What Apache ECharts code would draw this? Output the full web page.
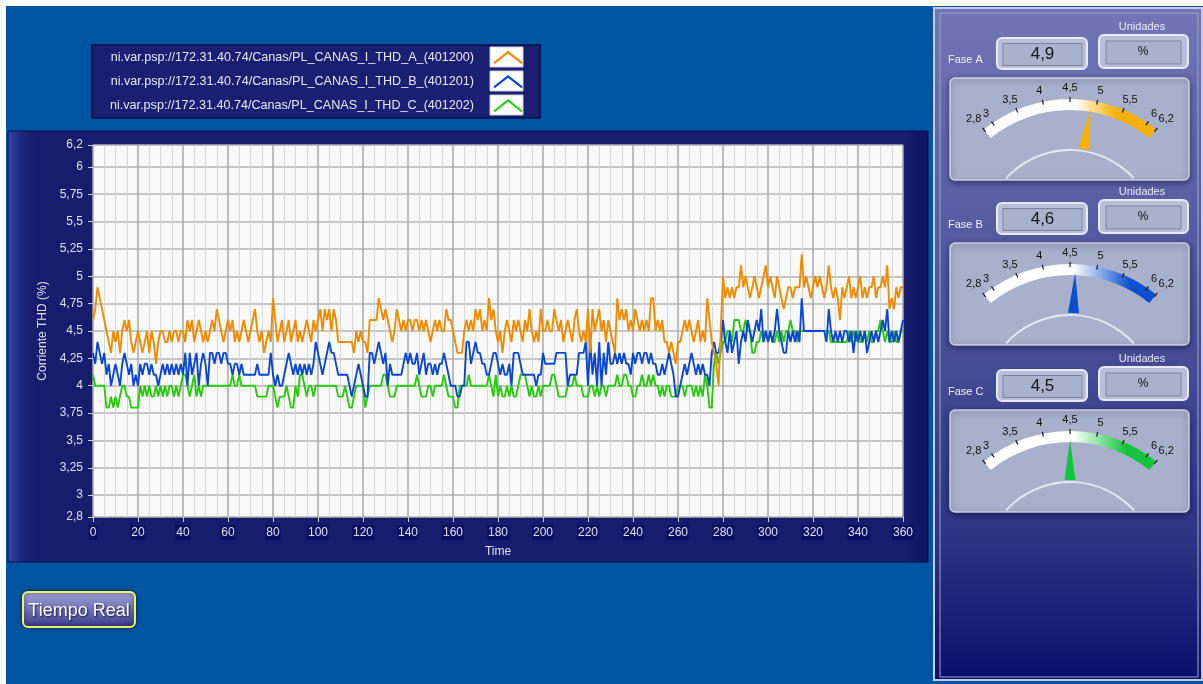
<!DOCTYPE html>
<html><head><meta charset="utf-8">
<script src="https://cdn.jsdelivr.net/npm/echarts@6/dist/echarts.min.js"></script>
<style>html,body{margin:0;padding:0;background:#ffffff;}#c{width:1203px;height:684px;}</style>
</head><body><div id="c"></div>
<script>
// ---------- DATA ----------
const seriesNames = [
  'ni.var.psp://172.31.40.74/Canas/PL_CANAS_I_THD_A_(401200)',
  'ni.var.psp://172.31.40.74/Canas/PL_CANAS_I_THD_B_(401201)',
  'ni.var.psp://172.31.40.74/Canas/PL_CANAS_I_THD_C_(401202)'
];
const thdA = [
4.6,4.7,4.9,4.8,4.7,4.6,4.5,4.4,4.3,4.5,
4.4,4.5,4.3,4.5,4.6,4.5,4.6,4.4,4.3,4.4,
4.5,4.4,4.3,4.4,4.5,4.3,4.5,4.4,4.2,4.4,
4.5,4.5,4.4,4.4,4.5,4.4,4.5,4.5,4.4,4.5,
4.5,4.4,4.6,4.5,4.6,4.4,4.5,4.6,4.5,4.4,
4.5,4.4,4.5,4.6,4.5,4.7,4.6,4.5,4.4,4.5,
4.6,4.5,4.6,4.4,4.5,4.4,4.5,4.6,4.5,4.4,
4.5,4.6,4.7,4.5,4.4,4.5,4.3,4.4,4.5,4.4,
4.8,4.6,4.4,4.5,4.6,4.4,4.5,4.6,4.4,4.5,
4.6,4.4,4.5,4.4,4.5,4.6,4.5,4.4,4.6,4.5,
4.6,4.7,4.5,4.7,4.6,4.7,4.5,4.7,4.6,4.4,
4.4,4.4,4.4,4.4,4.4,4.4,4.3,4.5,4.4,4.5,
4.4,4.4,4.3,4.6,4.6,4.6,4.6,4.8,4.7,4.6,
4.7,4.6,4.5,4.4,4.5,4.7,4.6,4.5,4.6,4.5,
4.6,4.6,4.5,4.6,4.6,4.5,4.6,4.5,4.6,4.5,
4.4,4.5,4.6,4.5,4.6,4.5,4.5,4.7,4.6,4.6,
4.5,4.4,4.3,4.3,4.3,4.5,4.6,4.5,4.6,4.5,
4.7,4.6,4.7,4.5,4.6,4.5,4.8,4.6,4.7,4.5,
4.4,4.5,4.3,4.5,4.6,4.5,4.4,4.6,4.5,4.6,
4.5,4.4,4.6,4.5,4.7,4.5,4.4,4.5,4.4,4.7,
4.5,4.5,4.6,4.5,4.5,4.7,4.6,4.5,4.6,4.4,
4.5,4.6,4.5,4.4,4.6,4.7,4.5,4.4,4.5,4.4,
4.7,4.3,4.7,4.5,4.6,4.7,4.5,4.6,4.4,4.6,
4.5,4.4,4.3,4.8,4.6,4.7,4.6,4.7,4.5,4.6,
4.5,4.7,4.6,4.5,4.6,4.5,4.6,4.5,4.8,4.8,
4.5,4.6,4.5,4.6,4.4,4.4,4.3,4.4,4.3,4.2,
4.4,4.4,4.5,4.6,4.5,4.6,4.5,4.4,4.5,4.6,
4.4,4.5,4.4,4.8,4.6,4.4,4.3,4.2,4.0,4.5,
5.0,4.8,4.9,4.8,4.9,4.8,4.9,4.9,5.1,4.9,
5.0,4.9,4.8,4.9,5.0,4.9,4.8,4.9,5.0,5.1,
4.9,5.0,4.9,4.8,5.0,4.9,4.8,4.7,4.8,4.9,
4.9,4.8,4.9,4.9,4.9,5.2,4.9,5.0,4.9,4.8,
4.9,5.0,4.9,5.0,4.9,4.8,4.9,5.1,4.9,4.8,
4.9,4.8,4.6,4.9,4.8,4.9,5.0,4.8,4.9,4.8,
4.9,5.0,4.8,4.9,4.8,4.9,4.9,5.0,4.8,4.9,
4.9,5.0,4.9,5.1,4.7,4.8,4.7,4.9,4.8,4.9,
4.9
];
const thdB = [
4.3,4.2,4.4,4.3,4.2,4.3,4.1,4.2,4.0,4.1,
4.2,4.1,4.0,4.2,4.3,4.2,4.1,4.2,4.0,4.1,
4.0,4.2,4.1,4.2,4.2,4.1,4.2,4.1,4.1,4.0,
4.1,4.2,4.1,4.2,4.1,4.2,4.1,4.2,4.1,4.2,
4.1,4.3,4.0,4.3,4.1,4.2,4.3,4.0,4.2,4.3,
4.2,4.0,4.3,4.3,4.2,4.3,4.3,4.2,4.3,4.3,
4.2,4.2,4.1,4.2,4.2,4.1,4.2,4.1,4.1,4.1,
4.1,4.1,4.1,4.2,4.1,4.1,4.1,4.1,4.1,4.3,
4.1,4.0,4.1,4.0,4.0,4.1,4.2,4.3,4.2,4.1,
4.2,4.1,4.2,4.1,4.2,4.1,4.2,4.1,4.2,4.4,
4.3,4.2,4.1,4.2,4.3,4.4,4.3,4.3,4.2,4.1,
4.1,4.1,4.1,4.1,4.0,3.9,4.0,4.1,4.2,4.1,
4.0,3.9,3.9,4.3,4.3,4.2,4.3,4.4,4.3,4.2,
4.3,4.0,4.2,4.1,4.1,4.1,4.1,4.1,4.2,4.3,
4.2,4.3,4.2,4.2,4.3,4.1,4.2,4.3,4.1,4.2,
4.2,4.1,4.2,4.1,4.2,4.2,4.3,4.2,4.1,4.0,
4.0,4.0,3.9,3.9,4.0,4.0,4.4,4.4,4.2,4.3,
4.4,4.3,4.3,4.2,4.2,4.1,4.1,4.2,4.3,4.3,
4.2,4.1,4.2,4.1,4.1,4.2,4.0,4.3,4.3,4.3,
4.2,4.1,4.1,4.1,4.1,4.1,4.1,4.0,4.1,4.1,
4.3,4.2,4.2,4.2,4.2,4.2,4.3,4.3,4.3,4.3,
4.3,4.0,4.1,4.1,4.1,4.1,4.3,4.3,4.3,4.4,
4.0,4.4,4.1,4.3,4.0,4.4,4.0,4.3,4.1,4.4,
4.2,4.2,4.3,4.2,4.3,4.2,4.3,4.2,4.2,4.1,
4.3,4.2,4.3,4.3,4.2,4.3,4.3,4.2,4.3,4.2,
4.2,4.1,4.1,4.2,4.1,4.2,4.3,4.2,4.1,3.9,
3.9,4.0,4.1,4.2,4.1,4.2,4.3,4.2,4.1,4.2,
4.1,4.2,4.1,4.1,4.0,4.3,4.4,4.3,4.3,4.4,
4.6,4.4,4.3,4.5,4.3,4.4,4.5,4.2,4.4,4.5,
4.4,4.6,4.5,4.4,4.5,4.6,4.5,4.7,4.4,4.5,
4.4,4.5,4.4,4.5,4.7,4.5,4.4,4.3,4.3,4.5,
4.4,4.5,4.4,4.5,4.4,4.8,4.5,4.5,4.5,4.5,
4.5,4.5,4.5,4.5,4.5,4.5,4.4,4.7,4.5,4.4,
4.5,4.4,4.5,4.4,4.5,4.5,4.4,4.5,4.3,4.5,
4.4,4.5,4.4,4.5,4.3,4.4,4.5,4.4,4.5,4.4,
4.5,4.6,4.5,4.7,4.4,4.5,4.4,4.5,4.4,4.5,
4.6
];
const thdC = [
4.1,4.0,4.0,4.0,4.0,4.0,3.8,3.8,3.9,3.8,
3.9,3.8,3.9,4.0,4.0,3.9,3.9,3.8,3.8,3.8,
3.8,4.0,3.9,4.0,3.9,4.0,3.9,3.9,4.0,3.9,
4.0,3.9,4.0,3.9,4.0,4.0,3.9,4.0,3.9,4.0,
4.1,4.1,4.0,3.9,4.0,4.1,3.9,4.0,3.9,4.0,
4.0,4.0,4.0,4.0,4.0,4.0,4.0,4.0,4.0,4.0,
4.0,4.0,4.1,4.0,4.0,4.1,4.0,4.0,4.0,4.0,
4.0,4.0,4.0,3.9,3.9,3.9,3.9,3.9,4.0,4.0,
4.0,3.9,3.8,3.9,3.9,3.9,4.0,3.9,3.8,3.8,
4.0,3.9,4.1,4.1,4.0,3.9,4.0,4.0,3.9,4.0,
4.0,4.0,4.0,4.0,4.0,4.0,4.0,4.0,4.0,3.9,
3.9,3.9,4.0,3.9,3.8,3.8,3.9,4.0,4.0,4.0,
4.0,3.8,3.9,4.0,4.0,4.0,4.0,4.0,4.0,4.1,
4.1,4.0,3.9,3.9,3.9,4.0,4.0,4.0,4.0,4.0,
4.0,4.0,4.0,4.0,4.1,4.0,3.9,3.9,3.9,4.0,
4.0,3.9,4.0,4.0,4.0,4.0,4.1,4.0,3.9,3.9,
3.9,3.8,3.8,4.0,4.0,4.0,4.0,4.1,4.0,4.0,
4.0,4.0,4.0,4.0,4.0,4.0,4.1,4.0,3.9,4.1,
3.9,4.0,3.9,3.9,4.0,3.9,4.0,3.9,3.9,4.0,
4.1,4.1,4.1,4.0,3.9,4.0,3.9,3.9,4.0,3.9,
4.0,4.0,4.0,4.0,4.1,4.1,4.0,3.9,3.9,3.9,
3.9,4.0,4.0,4.0,4.1,4.0,4.0,4.0,3.9,3.9,
3.9,4.0,4.0,3.9,4.0,3.9,4.0,4.0,3.9,4.0,
4.0,4.0,4.0,4.1,4.0,4.0,4.1,4.1,4.0,4.0,
3.9,3.9,4.0,4.0,4.1,4.0,4.0,4.1,4.0,4.1,
4.0,4.0,3.9,4.0,3.9,4.0,4.0,3.9,3.9,3.9,
4.0,4.0,4.0,3.9,4.0,4.0,4.0,3.9,4.0,3.9,
4.0,3.9,4.1,4.0,3.8,3.8,4.2,4.3,4.2,4.3,
4.4,4.4,4.5,4.5,4.4,4.6,4.6,4.6,4.5,4.5,
4.6,4.5,4.5,4.3,4.3,4.4,4.4,4.5,4.4,4.5,
4.4,4.5,4.4,4.4,4.5,4.4,4.5,4.4,4.5,4.5,
4.6,4.5,4.5,4.4,4.5,4.5,4.5,4.5,4.5,4.5,
4.5,4.5,4.5,4.5,4.5,4.5,4.5,4.5,4.4,4.4,
4.4,4.4,4.4,4.4,4.4,4.4,4.5,4.4,4.5,4.4,
4.5,4.4,4.4,4.5,4.4,4.5,4.4,4.4,4.5,4.5,
4.6,4.5,4.4,4.5,4.4,4.4,4.5,4.4,4.4,4.5,
4.5
];
const xMin = 0, xMax = 360, xStep = 20;
const yTickValues = [2.8, 3, 3.25, 3.5, 3.75, 4, 4.25, 4.5, 4.75, 5, 5.25, 5.5, 5.75, 6, 6.2];
const yAxisName = 'Corriente THD (%)';
const xAxisName = 'Time';
const phaseLabels = ['Fase A', 'Fase B', 'Fase C'];
const gaugeValues = [4.9, 4.6, 4.5];
const gaugeMin = 2.8, gaugeMax = 6.2;
const gaugeInnerMin = 3, gaugeInnerMax = 6;
const unitsTitle = 'Unidades';
const unitsText = '%';
const buttonText = 'Tiempo Real';

// ---------- STYLE ----------
const lineColors = ['#f28a00', '#0a46d6', '#26cc0c'];
const gaugeColors = ['#f6b100', '#0a4fd0', '#14c43c'];
const gaugeStops = [[0.53, 0.77], [0.52, 0.85], [0.52, 0.83]];
const FONT = 'Liberation Sans, Arial, sans-serif';
const comma = v => String(Math.round(v * 100) / 100).replace('.', ',');

const chart = echarts.init(document.getElementById('c'), null, {renderer: 'canvas'});

const graphics = [];
graphics.push({type: 'rect', shape: {x: 6, y: 6, width: 1197, height: 678}, style: {fill: '#0055a0'}, z: -100});
graphics.push({type: 'rect', shape: {x: 8, y: 131, width: 920, height: 431},
  style: {fill: new echarts.graphic.LinearGradient(0, 0, 1, 0, [
    {offset: 0, color: '#3447a8'}, {offset: 0.016, color: '#1d2479'}, {offset: 0.03, color: '#171c6d'},
    {offset: 0.975, color: '#171c6d'}, {offset: 1, color: '#0d1160'}]), stroke: '#0b0f55', lineWidth: 1}, z: -90});
graphics.push({type: 'rect', shape: {x: 92, y: 45, width: 448, height: 73},
  style: {fill: '#1b1f72', stroke: '#0b0e4a', lineWidth: 1.5}, z: -90});
[47, 71, 95].forEach(y => graphics.push({type: 'rect', shape: {x: 490, y: y, width: 33, height: 20},
  style: {fill: '#ffffff', stroke: '#c9ccd8', lineWidth: 1}, z: -80}));
graphics.push({type: 'rect', shape: {x: 934, y: 8, width: 268, height: 672},
  style: {fill: new echarts.graphic.LinearGradient(0, 0, 0, 1, [
    {offset: 0, color: '#7276b6'}, {offset: 0.55, color: '#444993'}, {offset: 0.8, color: '#2c3182'}, {offset: 1, color: '#0a0e6c'}]),
    stroke: '#c7cbe0', lineWidth: 2}, z: -90});
graphics.push({type: 'rect', shape: {x: 940, y: 13, width: 258, height: 664},
  style: {fill: 'none', stroke: '#9fa5cc', lineWidth: 1}, z: -89});

const gaugeOffsets = [0, 165, 332];
gaugeOffsets.forEach((dy, i) => {
  graphics.push({type: 'text', style: {x: 1142, y: 27 + dy, text: unitsTitle, align: 'center', verticalAlign: 'middle',
    fill: '#e9ebf6', font: '11px ' + FONT}, z: -50});
  graphics.push({type: 'text', style: {x: 948, y: 60 + dy, text: phaseLabels[i], align: 'left', verticalAlign: 'middle',
    fill: '#f2f3fa', font: '11px ' + FONT}, z: -50});
  graphics.push({type: 'rect', shape: {x: 1099, y: 35 + dy, width: 89, height: 33, r: 5},
    style: {fill: '#b8bfd8', stroke: '#e8ebf5', lineWidth: 2}, z: -60});
  graphics.push({type: 'rect', shape: {x: 1106, y: 41 + dy, width: 75, height: 23},
    style: {fill: '#a9b1cd', stroke: '#7c839e', lineWidth: 1}, z: -55});
  graphics.push({type: 'text', style: {x: 1143, y: 52 + dy, text: unitsText, align: 'center', verticalAlign: 'middle',
    fill: '#111', font: '12px ' + FONT}, z: -50});
  graphics.push({type: 'rect', shape: {x: 997, y: 38 + dy, width: 90, height: 31, r: 5},
    style: {fill: '#b8bfd8', stroke: '#e8ebf5', lineWidth: 2}, z: -60});
  graphics.push({type: 'rect', shape: {x: 950, y: 78 + dy, width: 239, height: 102, r: 5},
    style: {fill: '#a8b0cc', stroke: '#cbd0e3', lineWidth: 1.5, shadowBlur: 6, shadowColor: 'rgba(0,0,30,0.45)', shadowOffsetY: 2}, z: -60});
});
graphics.push({type: 'rect', shape: {x: 23, y: 592, width: 112, height: 35, r: 5},
  style: {fill: new echarts.graphic.LinearGradient(0, 0, 0, 1, [
    {offset: 0, color: '#a4a5d8'}, {offset: 0.5, color: '#6f71b4'}, {offset: 1, color: '#35388a'}]),
    stroke: '#f0f06a', lineWidth: 2, shadowBlur: 4, shadowColor: 'rgba(0,0,0,0.5)'}, z: -50});
graphics.push({type: 'text', style: {x: 79, y: 611, text: buttonText, align: 'center', verticalAlign: 'middle',
  fill: '#ffffff', font: '18px ' + FONT, textShadowColor: 'rgba(0,0,40,0.8)', textShadowBlur: 2, textShadowOffsetX: 1, textShadowOffsetY: 1}, z: -40});

// ---------- SERIES ----------
const series = [];
const lineData = [thdA, thdB, thdC];
[2, 1, 0].forEach(k => {
  series.push({
    name: seriesNames[k], type: 'line', data: lineData[k].map((v, t) => [t, v]),
    showSymbol: false, symbol: 'none', lineStyle: {color: lineColors[k], width: 1.9}, itemStyle: {color: lineColors[k]},
    animation: false, z: 3 + (2 - k)
  });
});

const hiddenParts = {
  pointer: {show: false}, anchor: {show: false}, title: {show: false}, detail: {show: false}, progress: {show: false}
};
gaugeOffsets.forEach((dy, i) => {
  const cy = 236 + dy;
  const center = [1070, cy];
  const grad = new echarts.graphic.LinearGradient(0, 0, 1, 0, [
    {offset: 0, color: '#ffffff'}, {offset: gaugeStops[i][0], color: '#ffffff'},
    {offset: gaugeStops[i][1], color: gaugeColors[i]}, {offset: 1, color: gaugeColors[i]}]);
  series.push(Object.assign({type: 'gauge', center, radius: 87, startAngle: 138, endAngle: 42, min: 0, max: 1,
    axisLine: {lineStyle: {width: 2, color: [[1, '#e3e7f3']]}}, axisTick: {show: false}, splitLine: {show: false}, axisLabel: {show: false},
    data: [{value: 0}], animation: false, silent: true, z: 2}, hiddenParts));
  series.push({type: 'gauge', center, radius: 137, startAngle: 129, endAngle: 51, min: gaugeMin, max: gaugeMax, splitNumber: 1,
    axisLine: {lineStyle: {width: 11, color: [[1, grad]]}},
    axisTick: {show: false}, splitLine: {show: false}, axisLabel: {show: false},
    progress: {show: false}, anchor: {show: false}, title: {show: false},
    pointer: {icon: 'triangle', width: 11, length: 40, offsetCenter: [0, -88], itemStyle: {color: gaugeColors[i]}},
    detail: {offsetCenter: [-27.5, -181.5], formatter: v => comma(v), fontSize: 17, fontFamily: FONT, color: '#151515',
      fontWeight: 'normal', backgroundColor: '#a9b1cd', borderColor: '#7c839e', borderWidth: 1,
      padding: 0, width: 78, height: 21, lineHeight: 21, align: 'center'},
    data: [{value: gaugeValues[i], name: phaseLabels[i]}], animation: false, silent: true, z: 4});
  series.push(Object.assign({type: 'gauge', center, radius: 137, startAngle: 124.41, endAngle: 55.59, min: gaugeInnerMin, max: gaugeInnerMax, splitNumber: 6,
    axisLine: {show: false, lineStyle: {width: 0}}, axisTick: {show: false},
    splitLine: {show: true, length: 5, distance: -2, lineStyle: {color: '#1b1b1b', width: 1.2}}, axisLabel: {show: false},
    data: [{value: gaugeInnerMin}], animation: false, silent: true, z: 5}, hiddenParts));
  series.push(Object.assign({type: 'gauge', center, radius: 137, startAngle: 124.41, endAngle: 55.59, min: gaugeInnerMin, max: gaugeInnerMax, splitNumber: 6,
    axisLine: {show: false, lineStyle: {width: 0}}, axisTick: {show: false},
    splitLine: {show: false, length: 0, distance: 0},
    axisLabel: {show: true, distance: -17, formatter: v => comma(v), color: '#111', fontSize: 11, fontFamily: FONT},
    data: [{value: gaugeInnerMin}], animation: false, silent: true, z: 5}, hiddenParts));
  series.push(Object.assign({type: 'gauge', center, radius: 137, startAngle: 129, endAngle: 51, min: gaugeMin, max: gaugeMax, splitNumber: 1,
    axisLine: {show: false, lineStyle: {width: 0}}, axisTick: {show: false},
    splitLine: {show: true, length: 5, distance: -2, lineStyle: {color: '#1b1b1b', width: 1.2}}, axisLabel: {show: false},
    data: [{value: gaugeMin}], animation: false, silent: true, z: 5}, hiddenParts));
  series.push(Object.assign({type: 'gauge', center, radius: 137, startAngle: 131.6, endAngle: 48.4, min: gaugeMin, max: gaugeMax, splitNumber: 1,
    axisLine: {show: false, lineStyle: {width: 0}}, axisTick: {show: false},
    splitLine: {show: false, length: 0, distance: 0},
    axisLabel: {show: true, distance: -19.5, formatter: v => comma(v), color: '#111', fontSize: 11, fontFamily: FONT},
    data: [{value: gaugeMin}], animation: false, silent: true, z: 5}, hiddenParts));
});

const axisTextColor = '#dde1f1';
const option = {
  animation: false,
  textStyle: {fontFamily: FONT},
  graphic: {elements: graphics},
  legend: {
    orient: 'vertical', left: 110, top: 51, padding: 0, align: 'right', selectedMode: false,
    itemWidth: 28, itemHeight: 12, itemGap: 11,
    icon: 'path://M0,12 L14,1 L28,12',
    textStyle: {color: '#e6e9f5', fontSize: 12.6, fontFamily: FONT, padding: [0, 15, 0, 0]},
    data: seriesNames.map((n, k) => ({name: n, itemStyle: {color: 'rgba(0,0,0,0)', borderColor: lineColors[k], borderWidth: 2.2}}))
  },
  grid: {left: 93, top: 145, width: 810, height: 372, show: true, backgroundColor: '#f9f9f9', borderWidth: 0, containLabel: false},
  xAxis: {
    type: 'value', min: xMin, max: xMax, interval: xStep,
    name: xAxisName, nameLocation: 'middle', nameGap: 29, nameTextStyle: {color: axisTextColor, fontSize: 12},
    axisLine: {show: false},
    axisTick: {show: true, length: 5, lineStyle: {color: '#c9cee6'}},
    axisLabel: {color: axisTextColor, fontSize: 12, margin: 8, backgroundColor: '#0a1062', padding: [2, 1, 1, 1]},
    splitLine: {show: true, lineStyle: {color: '#a9a9a9', width: 1.5}},
    minorTick: {show: false, splitNumber: 4},
    minorSplitLine: {show: true, lineStyle: {color: '#d7d7d7', width: 1}}
  },
  yAxis: {
    type: 'value', min: gaugeMin, max: gaugeMax,
    name: yAxisName, nameLocation: 'middle', nameGap: 41, nameRotate: 90, nameTextStyle: {color: axisTextColor, fontSize: 12},
    axisLine: {show: false},
    axisTick: {show: true, length: 5, customValues: yTickValues, lineStyle: {color: '#c9cee6'}},
    axisLabel: {customValues: yTickValues, formatter: v => comma(v), color: axisTextColor, fontSize: 12, margin: 10},
    splitLine: {show: true, lineStyle: {color: '#b3b3b3', width: 1.5}}
  },
  series
};
chart.setOption(option);
</script></body></html>
